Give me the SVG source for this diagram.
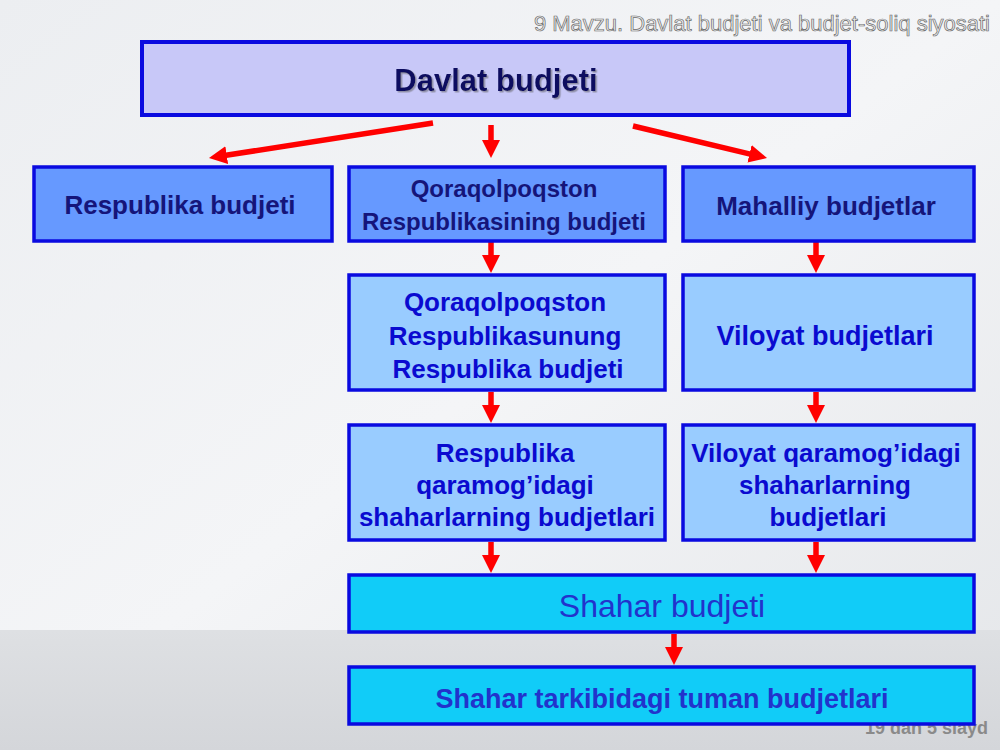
<svg xmlns="http://www.w3.org/2000/svg" width="1000" height="750" viewBox="0 0 1000 750">
  <defs>
    <linearGradient id="bg" x1="0" y1="0" x2="1" y2="1">
      <stop offset="0" stop-color="#eceef1"/>
      <stop offset="0.5" stop-color="#f4f5f7"/>
      <stop offset="1" stop-color="#e4e6e9"/>
    </linearGradient>
    <linearGradient id="band" x1="0" y1="0" x2="0" y2="1">
      <stop offset="0" stop-color="#dee0e3"/>
      <stop offset="1" stop-color="#d4d6da"/>
    </linearGradient>
    <filter id="shadow" x="-10%" y="-20%" width="120%" height="150%">
      <feDropShadow dx="1.5" dy="1.5" stdDeviation="0.6" flood-color="#8a8aa0" flood-opacity="0.9"/>
    </filter>
    <marker id="ah" viewBox="0 0 18 18" refX="4" refY="9" markerWidth="18" markerHeight="18" markerUnits="userSpaceOnUse" orient="auto">
      <path d="M0,0 L18,9 L0,18 z" fill="#ff0000"/>
    </marker>
  </defs>
  <style>
    .box { stroke: #0a0ae0; stroke-width: 3.5; }
    .t0 { fill: #c8c8f8; }
    .t1 { fill: #6699ff; }
    .t2 { fill: #99ccff; }
    .t3 { fill: #11ccf8; }
    text { font-family: "Liberation Sans", Arial, sans-serif; text-anchor: middle; }
    .b { font-weight: bold; }
    .navy { fill: #15157a; }
    .blue { fill: #0a0ad0; }
    .cyanTxt { fill: #2233cc; }
    .arrow { stroke: #ff0000; stroke-width: 5.5; fill: none; marker-end: url(#ah); }
  </style>

  <rect x="0" y="0" width="1000" height="750" fill="url(#bg)"/>
  <rect x="0" y="630" width="1000" height="120" fill="url(#band)"/>

  <text x="990" y="31" style="text-anchor:end;font-size:22px;fill:#eeeeee;stroke:#6a6a6a;stroke-width:0.7px">9 Mavzu. Davlat budjeti va budjet-soliq siyosati</text>
  <text x="988" y="734" class="b" style="text-anchor:end;font-size:18px;fill:#8a8a8a">19 dan 5 slayd</text>

  <g id="connectors">
    <line class="arrow" x1="433" y1="123" x2="222.8" y2="155.8"/>
    <line class="arrow" x1="491" y1="125" x2="491" y2="144"/>
    <line class="arrow" x1="633" y1="126" x2="753.4" y2="154.8"/>
    <line class="arrow" x1="491" y1="242" x2="491" y2="259"/>
    <line class="arrow" x1="816" y1="242" x2="816" y2="259"/>
    <line class="arrow" x1="491" y1="392" x2="491" y2="409"/>
    <line class="arrow" x1="816" y1="392" x2="816" y2="409"/>
    <line class="arrow" x1="491" y1="542" x2="491" y2="559"/>
    <line class="arrow" x1="816" y1="542" x2="816" y2="559"/>
    <line class="arrow" x1="674" y1="634" x2="674" y2="651"/>
  </g>

  <g id="davlat-budjeti">
    <rect class="box t0" x="142" y="42" width="707" height="73" style="stroke-width:4"/>
    <text x="496" y="91" class="b navy" style="font-size:31px;fill:#101060" filter="url(#shadow)">Davlat budjeti</text>
  </g>

  <g id="respublika-budjeti">
    <rect class="box t1" x="34" y="167" width="298" height="74"/>
    <text x="180" y="214" class="b navy" style="font-size:26px">Respublika budjeti</text>
  </g>

  <g id="qoraqolpoqston-budjeti">
    <rect class="box t1" x="349" y="167" width="316" height="74"/>
    <text x="504" y="197" class="b navy" style="font-size:24px">Qoraqolpoqston</text>
    <text x="504" y="230" class="b navy" style="font-size:24px">Respublikasining budjeti</text>
  </g>

  <g id="mahalliy-budjetlar">
    <rect class="box t1" x="683" y="167" width="291" height="74"/>
    <text x="826" y="215" class="b navy" style="font-size:26px">Mahalliy budjetlar</text>
  </g>

  <g id="qoraqolpoqston-respublika-budjeti">
    <rect class="box t2" x="349" y="275" width="316" height="115"/>
    <text x="505" y="311" class="b blue" style="font-size:26px">Qoraqolpoqston</text>
    <text x="505" y="345" class="b blue" style="font-size:26px">Respublikasunung</text>
    <text x="508" y="378" class="b blue" style="font-size:26px">Respublika budjeti</text>
  </g>

  <g id="viloyat-budjetlari">
    <rect class="box t2" x="683" y="275" width="291" height="115"/>
    <text x="825" y="345" class="b blue" style="font-size:27px">Viloyat budjetlari</text>
  </g>

  <g id="respublika-shaharlar">
    <rect class="box t2" x="349" y="425" width="316" height="115"/>
    <text x="505" y="462" class="b blue" style="font-size:26px">Respublika</text>
    <text x="505" y="494" class="b blue" style="font-size:26px">qaramog’idagi</text>
    <text x="507" y="526" class="b blue" style="font-size:26px">shaharlarning budjetlari</text>
  </g>

  <g id="viloyat-shaharlar">
    <rect class="box t2" x="683" y="425" width="291" height="115"/>
    <text x="826" y="462" class="b blue" style="font-size:26px">Viloyat qaramog’idagi</text>
    <text x="825" y="494" class="b blue" style="font-size:26px">shaharlarning</text>
    <text x="828" y="526" class="b blue" style="font-size:26px">budjetlari</text>
  </g>

  <g id="shahar-budjeti">
    <rect class="box t3" x="349" y="575" width="625" height="57"/>
    <text x="662" y="617" class="cyanTxt" style="font-size:32px">Shahar budjeti</text>
  </g>

  <g id="tuman-budjetlari">
    <rect class="box t3" x="349" y="667" width="625" height="57"/>
    <text x="662" y="708" class="b cyanTxt" style="font-size:27px">Shahar tarkibidagi tuman budjetlari</text>
  </g>
</svg>
